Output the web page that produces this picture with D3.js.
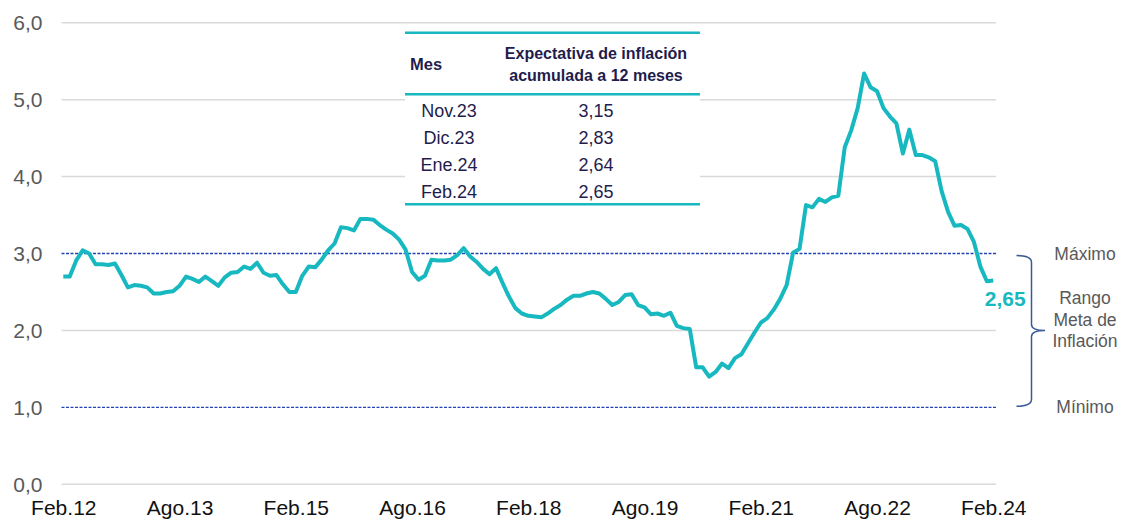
<!DOCTYPE html>
<html>
<head>
<meta charset="utf-8">
<script src="https://cdn.jsdelivr.net/npm/d3@7"></script>
<style>
  body { margin: 0; background: #fff; }
  svg { display: block; font-family: "Liberation Sans", Arial, sans-serif; }
</style>
</head>
<body>
<svg id="chart" width="1123" height="524"></svg>
<script>
// expectativa de inflacion a 12 meses, mensual Feb.12 - Feb.24
const values = [
  2.70, 2.70, 2.91, 3.04, 3.00, 2.86, 2.86, 2.85, 2.87, 2.72,
  2.56, 2.59, 2.58, 2.56, 2.48, 2.48, 2.50, 2.51, 2.58, 2.70,
  2.67, 2.63, 2.70, 2.64, 2.58, 2.69, 2.75, 2.76, 2.83, 2.80,
  2.88, 2.75, 2.71, 2.72, 2.60, 2.50, 2.50, 2.71, 2.83, 2.82,
  2.92, 3.04, 3.13, 3.34, 3.33, 3.30, 3.45, 3.45, 3.44, 3.37,
  3.31, 3.26, 3.18, 3.05, 2.76, 2.66, 2.71, 2.92, 2.91, 2.91,
  2.92, 2.98, 3.07, 2.96, 2.89, 2.80, 2.73, 2.81, 2.62, 2.44,
  2.29, 2.22, 2.19, 2.18, 2.17, 2.22, 2.28, 2.33, 2.40, 2.45,
  2.45, 2.48, 2.50, 2.48, 2.41, 2.33, 2.37, 2.46, 2.47, 2.33,
  2.30, 2.21, 2.22, 2.19, 2.23, 2.06, 2.03, 2.02, 1.52, 1.52,
  1.40, 1.46, 1.57, 1.51, 1.64, 1.69, 1.83, 1.97, 2.10, 2.16,
  2.27, 2.41, 2.59, 3.01, 3.06, 3.63, 3.60, 3.71, 3.67, 3.73,
  3.75, 4.38, 4.60, 4.89, 5.34, 5.16, 5.11, 4.89, 4.78, 4.69,
  4.30, 4.61, 4.28, 4.28, 4.25, 4.20, 3.81, 3.54, 3.36, 3.37,
  3.32, 3.15, 2.83, 2.64, 2.65
];

const monthNames = ['Ene', 'Feb', 'Mar', 'Abr', 'May', 'Jun', 'Jul', 'Ago', 'Sep', 'Oct', 'Nov', 'Dic'];
// category labels, one per value, starting Feb.12
const months = values.map((v, i) => {
  const m = (1 + i) % 12, yr = 12 + Math.floor((1 + i) / 12);
  return monthNames[m] + '.' + yr;
});

const xTickLabels = ['Feb.12', 'Ago.13', 'Feb.15', 'Ago.16', 'Feb.18', 'Ago.19', 'Feb.21', 'Ago.22', 'Feb.24'];
const yTicks = [0, 1, 2, 3, 4, 5, 6];
const targetLines = [1, 3];   // rango meta: minimo / maximo
const targetLabels = ['Máximo', 'Rango', 'Meta de', 'Inflación', 'Mínimo'];

const tableHeader = ['Mes', 'Expectativa de inflación', 'acumulada a 12 meses'];
const tableMonths = ['Nov.23', 'Dic.23', 'Ene.24', 'Feb.24'];
const tableValues = ['3,15', '2,83', '2,64', '2,65'];

const teal = '#17b8bf';
const navy = '#1f1d4d';
const fmt = d3.format('.1f');
const comma = s => s.replace('.', ',');

const svg = d3.select('#chart');

const x = d3.scalePoint().domain(months).range([63.3, 993.3]);
const y = d3.scaleLinear().domain([0, 6]).range([484.3, 22.7]);

const gridLeft = 61.5, gridRight = 996;

// gridlines
svg.append('g')
  .selectAll('line')
  .data(yTicks.filter(t => !targetLines.includes(t)))
  .enter().append('line')
  .attr('x1', gridLeft).attr('x2', gridRight)
  .attr('y1', d => y(d)).attr('y2', d => y(d))
  .attr('stroke', '#d9d9d9').attr('stroke-width', 1.5);

// target range lines (dashed)
svg.append('g')
  .selectAll('line')
  .data(targetLines)
  .enter().append('line')
  .attr('x1', gridLeft).attr('x2', gridRight)
  .attr('y1', d => y(d)).attr('y2', d => y(d))
  .attr('stroke', '#2444b4').attr('stroke-width', 1.3)
  .attr('stroke-dasharray', '3,1.5');

// y axis labels
const yAxis = svg.append('g')
  .attr('transform', `translate(${gridLeft},0)`)
  .call(d3.axisLeft(y).tickValues(yTicks).tickSize(0).tickPadding(19).tickFormat(d => comma(fmt(d))));
yAxis.select('.domain').remove();
yAxis.selectAll('text')
  .attr('font-size', 21).attr('fill', '#595959')
  .attr('font-family', '"Liberation Sans", Arial, sans-serif');

// x axis labels
const xAxis = svg.append('g')
  .attr('transform', `translate(0,${y(0)})`)
  .call(d3.axisBottom(x).tickValues(xTickLabels).tickSize(0).tickPadding(16));
xAxis.select('.domain').remove();
xAxis.selectAll('text')
  .attr('font-size', 21).attr('fill', '#111')
  .attr('font-family', '"Liberation Sans", Arial, sans-serif');

// table box (white background hides the gridlines)
const tb = { x0: 405, x1: 700, top: 32.7, mid: 94.3, bottom: 204.3 };
svg.append('rect')
  .attr('x', tb.x0).attr('y', tb.top).attr('width', tb.x1 - tb.x0).attr('height', tb.bottom - tb.top)
  .attr('fill', '#fff');

// series line
const line = d3.line()
  .x((d, i) => x(months[i]))
  .y(d => y(d));

svg.append('path')
  .datum(values)
  .attr('d', line)
  .attr('fill', 'none')
  .attr('stroke', teal)
  .attr('stroke-width', 4)
  .attr('stroke-linejoin', 'round');

// last value label
const last = values[values.length - 1];
svg.append('text')
  .attr('x', x(months[months.length - 1]) + 12)
  .attr('y', y(last) + 26)
  .attr('text-anchor', 'middle')
  .attr('font-size', 21).attr('font-weight', 'bold')
  .attr('fill', teal)
  .text(comma(last.toFixed(2)));

// table
[tb.top, tb.mid, tb.bottom].forEach(yy => {
  svg.append('line')
    .attr('x1', tb.x0).attr('x2', tb.x1)
    .attr('y1', yy).attr('y2', yy)
    .attr('stroke', teal).attr('stroke-width', 2.5);
});
svg.append('text')
  .attr('x', 410).attr('y', 70)
  .attr('font-size', 16.5).attr('font-weight', 'bold').attr('fill', navy)
  .text(tableHeader[0]);
svg.append('text')
  .attr('x', 596).attr('y', 59)
  .attr('text-anchor', 'middle')
  .attr('font-size', 16).attr('font-weight', 'bold').attr('fill', navy)
  .text(tableHeader[1]);
svg.append('text')
  .attr('x', 596).attr('y', 81)
  .attr('text-anchor', 'middle')
  .attr('font-size', 16).attr('font-weight', 'bold').attr('fill', navy)
  .text(tableHeader[2]);

const rowY = d3.scalePoint().domain(tableMonths).range([117, 198]);
svg.append('g')
  .selectAll('text.m')
  .data(tableMonths)
  .enter().append('text')
  .attr('x', 449).attr('y', d => rowY(d))
  .attr('text-anchor', 'middle')
  .attr('font-size', 18).attr('fill', navy)
  .text(d => d);
svg.append('g')
  .selectAll('text.v')
  .data(tableValues)
  .enter().append('text')
  .attr('x', 596).attr('y', (d, i) => rowY(tableMonths[i]))
  .attr('text-anchor', 'middle')
  .attr('font-size', 18).attr('fill', navy)
  .text(d => d);

// brace for target range
const bx = 1031.5, bl = 1016.5, tip = 1045;
const yTop = y(3) + 2, yBot = y(1) - 1, yMid = y(2);
svg.append('path')
  .attr('d', `M${bl},${yTop} Q${bx},${yTop} ${bx},${yTop + 7} L${bx},${yMid - 6} Q${bx},${yMid} ${tip},${yMid}` +
             ` M${tip},${yMid} Q${bx},${yMid} ${bx},${yMid + 6} L${bx},${yBot - 7} Q${bx},${yBot} ${bl},${yBot}`)
  .attr('fill', 'none')
  .attr('stroke', '#3a5a96')
  .attr('stroke-width', 1.5);

const labelY = [y(3), 298, 320, 341, y(1)];
svg.append('g')
  .selectAll('text')
  .data(targetLabels)
  .enter().append('text')
  .attr('x', 1085).attr('y', (d, i) => labelY[i])
  .attr('dy', '0.35em')
  .attr('text-anchor', 'middle')
  .attr('font-size', 17.5).attr('fill', '#595959')
  .text(d => d);
</script>
</body>
</html>
